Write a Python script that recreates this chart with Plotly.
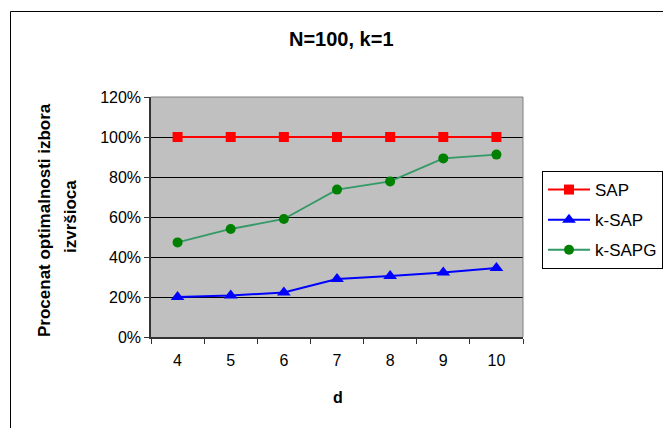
import plotly.graph_objects as go

# d values on the category axis
d_values = ["4", "5", "6", "7", "8", "9", "10"]

# share of optimal executor choices, in percent
sap = [100, 100, 100, 100, 100, 100, 100]
k_sap = [20.0, 20.7, 22.3, 29.0, 30.5, 32.2, 34.5]
k_sapg = [47.3, 54.0, 59.0, 73.7, 77.8, 89.3, 91.2]

y_ticks = [0, 20, 40, 60, 80, 100, 120]
y_tick_text = [f"{v}%" for v in y_ticks]

FONT = "Liberation Sans, Arial, sans-serif"

fig = go.Figure()

fig.add_trace(go.Scatter(
    x=d_values, y=sap, name="SAP", mode="lines+markers", legendgroup="a",
    line=dict(color="#FF0000", width=2),
    marker=dict(symbol="square", size=10, color="#FF0000"),
))
fig.add_trace(go.Scatter(
    x=d_values, y=k_sap, name="k-SAP", mode="lines+markers", legendgroup="b",
    line=dict(color="#0000FF", width=2),
    marker=dict(symbol="triangle-up", size=12, color="#0000FF"),
))
fig.add_trace(go.Scatter(
    x=d_values, y=k_sapg, name="k-SAPG", mode="lines+markers", legendgroup="c",
    line=dict(color="#339966", width=1.8),
    marker=dict(symbol="circle", size=10, color="#008000"),
))

L, R, T, B = 151, 523, 97, 337
W, H = R - L, B - T


def px_x(p):
    return (p - L) / W


def px_y(p):
    return (B - p) / H


fig.update_layout(
    width=663, height=428,
    margin=dict(l=L, r=663 - R, t=T, b=428 - B, autoexpand=False),
    paper_bgcolor="white",
    plot_bgcolor="#C0C0C0",
    font=dict(family=FONT, size=16, color="black"),
    showlegend=True,
    legend=dict(
        x=px_x(542), y=px_y(171), xanchor="left", yanchor="top",
        bordercolor="black", borderwidth=1, bgcolor="white",
        font=dict(family=FONT, size=17), tracegroupgap=5,
        traceorder="grouped", itemwidth=42,
    ),
    xaxis=dict(
        type="category", range=[-0.5, 6.5],
        showgrid=False, showline=True, linecolor="#333333", linewidth=1.5,
        mirror=False, ticks="outside", ticklen=5, tickcolor="#333333",
        tickson="boundaries", tickfont=dict(size=16), fixedrange=True,
        ticklabelstandoff=8,
    ),
    yaxis=dict(
        range=[0, 120], tickmode="array", tickvals=y_ticks, ticktext=y_tick_text,
        showgrid=True, gridcolor="black", gridwidth=1,
        showline=True, linecolor="#333333", linewidth=1.5,
        ticks="outside", ticklen=5, tickcolor="#333333",
        tickfont=dict(size=16), zeroline=False, fixedrange=True,
    ),
    shapes=[
        # plot-area frame on the top and right
        dict(type="line", xref="paper", yref="paper", x0=0, x1=1, y0=1, y1=1,
             line=dict(color="#808080", width=1)),
        dict(type="line", xref="paper", yref="paper", x0=1, x1=1, y0=0, y1=1,
             line=dict(color="#808080", width=1)),
        # outer chart frame
        dict(type="rect", xref="paper", yref="paper",
             x0=px_x(10.5), x1=px_x(700), y0=px_y(470), y1=px_y(11.5),
             line=dict(color="black", width=1)),
    ],
    annotations=[
        dict(text="<b>N=100, k=1</b>", xref="paper", yref="paper",
             x=px_x(341.5), y=px_y(39), showarrow=False,
             xanchor="center", yanchor="middle", font=dict(size=20)),
        dict(text="<b>d</b>", xref="paper", yref="paper",
             x=px_x(338), y=px_y(397), showarrow=False,
             xanchor="center", yanchor="middle", font=dict(size=16)),
        dict(text="<b>Procenat optimalnosti izbora</b>", xref="paper", yref="paper",
             x=px_x(44), y=px_y(220), showarrow=False, textangle=-90,
             xanchor="center", yanchor="middle", font=dict(size=17)),
        dict(text="<b>izvršioca</b>", xref="paper", yref="paper",
             x=px_x(70), y=px_y(217), showarrow=False, textangle=-90,
             xanchor="center", yanchor="middle", font=dict(size=17)),
    ],
)

fig.write_html("out.html")
